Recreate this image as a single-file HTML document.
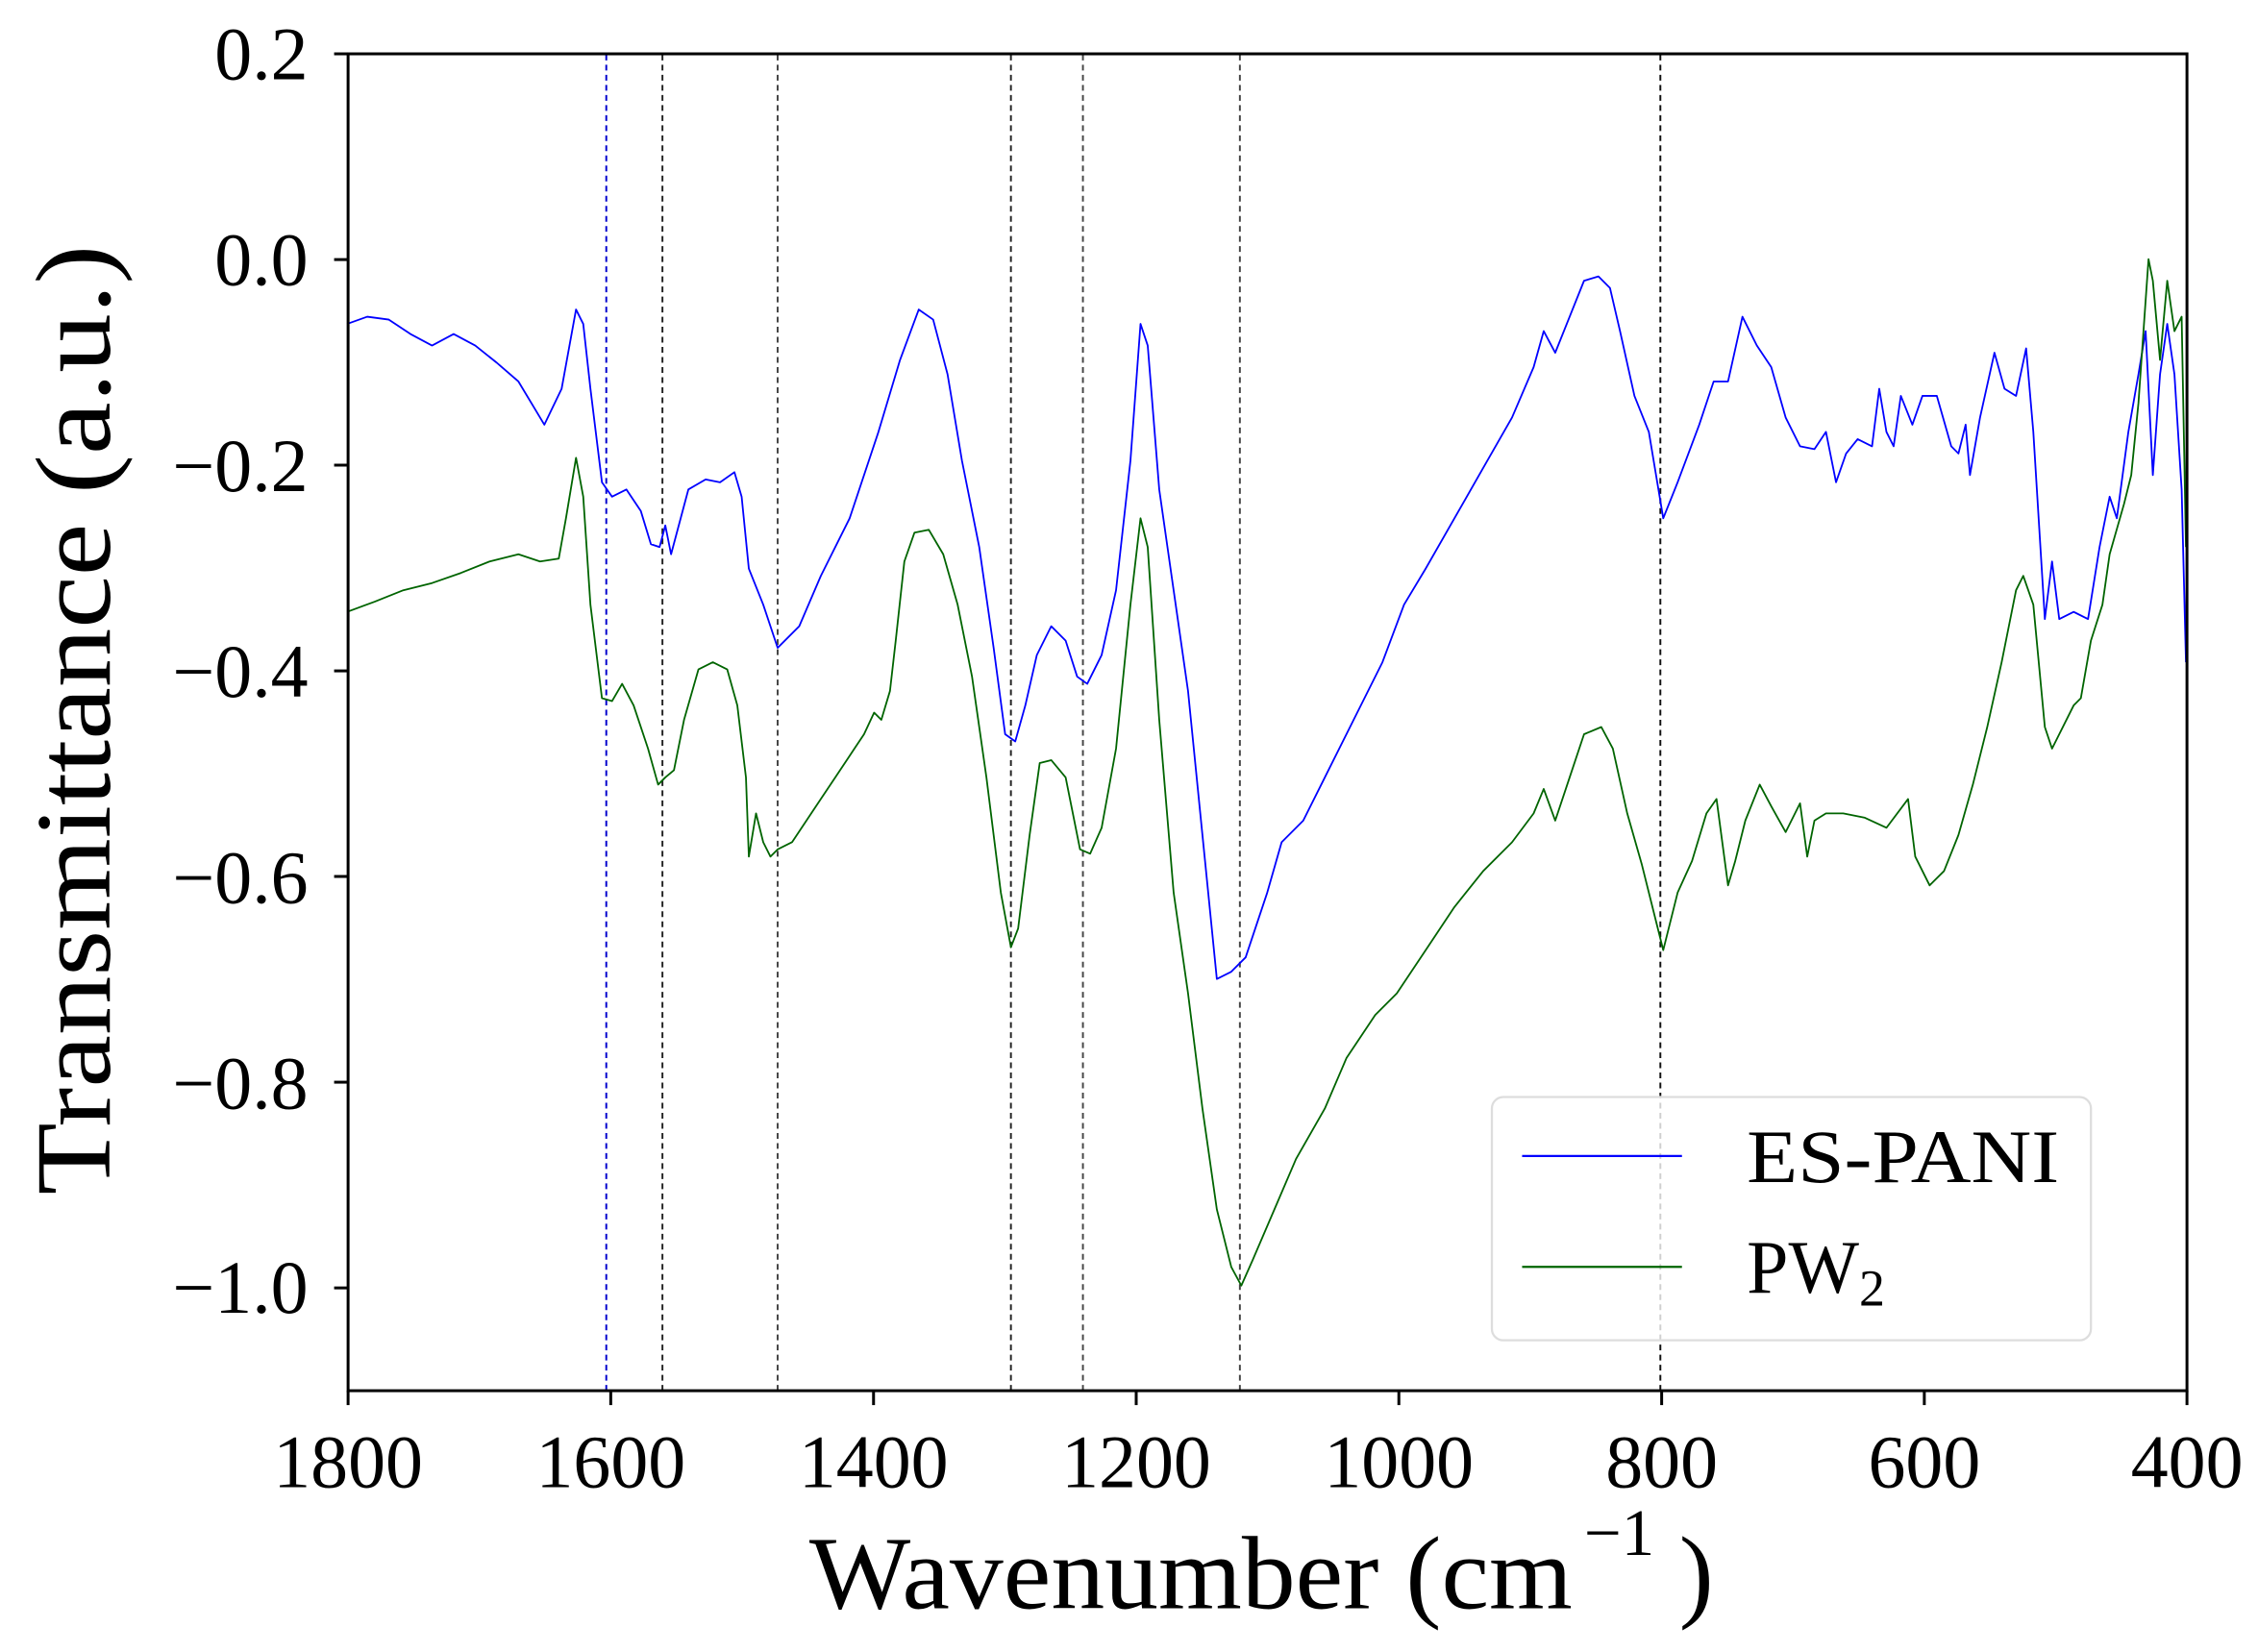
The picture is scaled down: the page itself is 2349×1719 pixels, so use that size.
<!DOCTYPE html>
<html><head><meta charset="utf-8"><style>html,body{margin:0;padding:0;background:#fff}svg{display:block}</style></head><body>
<svg width="2349" height="1719" viewBox="0 0 1568 1147.5" xmlns="http://www.w3.org/2000/svg" font-family="Liberation Serif, serif">
<rect width="1568" height="1147.5" fill="#fff"/>
<g stroke-dasharray="4,3" stroke-width="1.3">
<line x1="421" y1="38" x2="421" y2="966" stroke="#0000cc"/>
<line x1="460" y1="38" x2="460" y2="966" stroke="#222"/>
<line x1="540" y1="38" x2="540" y2="966" stroke="#444"/>
<line x1="702" y1="38" x2="702" y2="966" stroke="#222"/>
<line x1="752" y1="38" x2="752" y2="966" stroke="#444"/>
<line x1="861" y1="38" x2="861" y2="966" stroke="#444"/>
<line x1="1153" y1="38" x2="1153" y2="966" stroke="#111"/>
</g>
<polyline fill="none" stroke="#0000ff" stroke-width="1.2" stroke-linejoin="round" points="241,225 255,220 270,222 285,232 300,240 315,232 330,240 345,252 360,265 372,285 378,295 390,270 400,215 405,225 410,270 418,335 425,345 435,340 445,355 452,378 458,380 462,365 466,385 470,370 478,340 490,333 500,335 510,328 515,345 520,395 530,420 540,450 545,445 555,435 570,400 590,360 610,300 625,250 638,215 648,222 658,260 668,320 680,380 690,450 698,510 705,515 712,490 720,455 730,435 740,445 748,470 755,475 765,455 775,410 785,320 792,225 797,240 805,340 815,410 825,480 835,580 845,680 855,675 865,665 880,620 890,585 905,570 920,540 940,500 960,460 975,420 990,395 1010,360 1030,325 1050,290 1065,255 1072,230 1080,245 1090,220 1100,195 1110,192 1118,200 1125,230 1135,275 1145,300 1155,360 1165,335 1180,295 1190,265 1200,265 1210,220 1220,240 1230,255 1240,290 1250,310 1260,312 1268,300 1275,335 1282,315 1290,305 1300,310 1305,270 1310,300 1315,310 1320,275 1328,295 1335,275 1345,275 1355,310 1360,315 1365,295 1368,330 1375,290 1385,245 1392,270 1400,275 1407,242 1412,300 1420,430 1425,390 1430,430 1440,425 1450,430 1458,380 1465,345 1470,360 1478,300 1485,260 1490,230 1495,330 1500,260 1505,225 1510,260 1515,340 1518,460"/>
<polyline fill="none" stroke="#006400" stroke-width="1.2" stroke-linejoin="round" points="241,425 260,418 280,410 300,405 320,398 340,390 360,385 375,390 388,388 393,360 400,318 405,345 410,420 418,485 425,487 432,475 440,490 450,520 457,545 462,540 468,535 475,500 485,465 495,460 505,465 512,490 518,540 520,595 525,565 530,585 535,595 540,590 550,585 560,570 570,555 580,540 590,525 600,510 607,495 612,500 618,480 622,445 628,390 635,370 645,368 655,385 665,420 675,470 685,540 695,620 702,658 707,645 715,580 722,530 730,528 740,540 750,590 757,593 765,575 775,520 785,420 792,360 797,380 805,500 815,620 825,690 835,770 845,840 855,880 862,893 870,875 885,840 900,805 920,770 935,735 955,705 970,690 990,660 1010,630 1030,605 1050,585 1065,565 1072,548 1080,570 1090,540 1100,510 1112,505 1120,520 1130,565 1140,600 1150,640 1155,660 1165,620 1175,598 1185,565 1192,555 1200,615 1205,598 1212,570 1222,545 1230,560 1240,578 1250,558 1255,595 1260,570 1268,565 1280,565 1295,568 1310,575 1325,555 1330,595 1340,615 1350,605 1360,580 1370,545 1380,505 1390,460 1400,410 1405,400 1412,420 1420,505 1425,520 1430,510 1440,490 1445,485 1452,445 1460,420 1465,385 1475,350 1480,330 1485,280 1492,180 1495,195 1500,250 1505,195 1510,230 1515,220 1518,380"/>
<rect x="1036" y="762" width="416" height="169" rx="8" fill="#fff" fill-opacity="0.8" stroke="#ddd" stroke-width="1.5"/>
<line x1="1057" y1="803" x2="1168" y2="803" stroke="#0000ff" stroke-width="1.5"/>
<line x1="1057" y1="880" x2="1168" y2="880" stroke="#006400" stroke-width="1.5"/>
<text x="1213" y="821" font-size="52" textLength="217" lengthAdjust="spacingAndGlyphs">ES-PANI</text>
<text x="1213" y="898" font-size="52">PW<tspan font-size="36" dy="9">2</tspan></text>
<rect x="241.7" y="37.4" width="1277" height="928.6" fill="none" stroke="#000" stroke-width="2"/>
<g stroke="#000" stroke-width="2">
<line x1="232" y1="37.4" x2="241.7" y2="37.4"/><line x1="232" y1="180.3" x2="241.7" y2="180.3"/><line x1="232" y1="323.1" x2="241.7" y2="323.1"/><line x1="232" y1="466" x2="241.7" y2="466"/><line x1="232" y1="608.8" x2="241.7" y2="608.8"/><line x1="232" y1="751.7" x2="241.7" y2="751.7"/><line x1="232" y1="894.6" x2="241.7" y2="894.6"/>
<line x1="241.7" y1="966" x2="241.7" y2="976"/><line x1="424.1" y1="966" x2="424.1" y2="976"/><line x1="606.6" y1="966" x2="606.6" y2="976"/><line x1="789" y1="966" x2="789" y2="976"/><line x1="971.4" y1="966" x2="971.4" y2="976"/><line x1="1153.9" y1="966" x2="1153.9" y2="976"/><line x1="1336.3" y1="966" x2="1336.3" y2="976"/><line x1="1518.7" y1="966" x2="1518.7" y2="976"/>
</g>
<g font-size="52" text-anchor="end">
<text x="214" y="55">0.2</text><text x="214" y="198">0.0</text><text x="214" y="341">−0.2</text><text x="214" y="484">−0.4</text><text x="214" y="627">−0.6</text><text x="214" y="770">−0.8</text><text x="214" y="912">−1.0</text>
</g>
<g font-size="52" text-anchor="middle">
<text x="241.7" y="1033">1800</text><text x="424.1" y="1033">1600</text><text x="606.6" y="1033">1400</text><text x="789" y="1033">1200</text><text x="971.4" y="1033">1000</text><text x="1153.9" y="1033">800</text><text x="1336.3" y="1033">600</text><text x="1518.7" y="1033">400</text>
</g>
<text x="562" y="1117" font-size="72" textLength="530" lengthAdjust="spacingAndGlyphs">Wavenumber (cm</text>
<text x="1100" y="1080" font-size="46">−1</text>
<text x="1166" y="1117" font-size="72">)</text>
<text transform="translate(76,500) rotate(-90)" font-size="74" text-anchor="middle" textLength="660" lengthAdjust="spacingAndGlyphs">Transmittance (a.u.)</text>
</svg>
</body></html>
